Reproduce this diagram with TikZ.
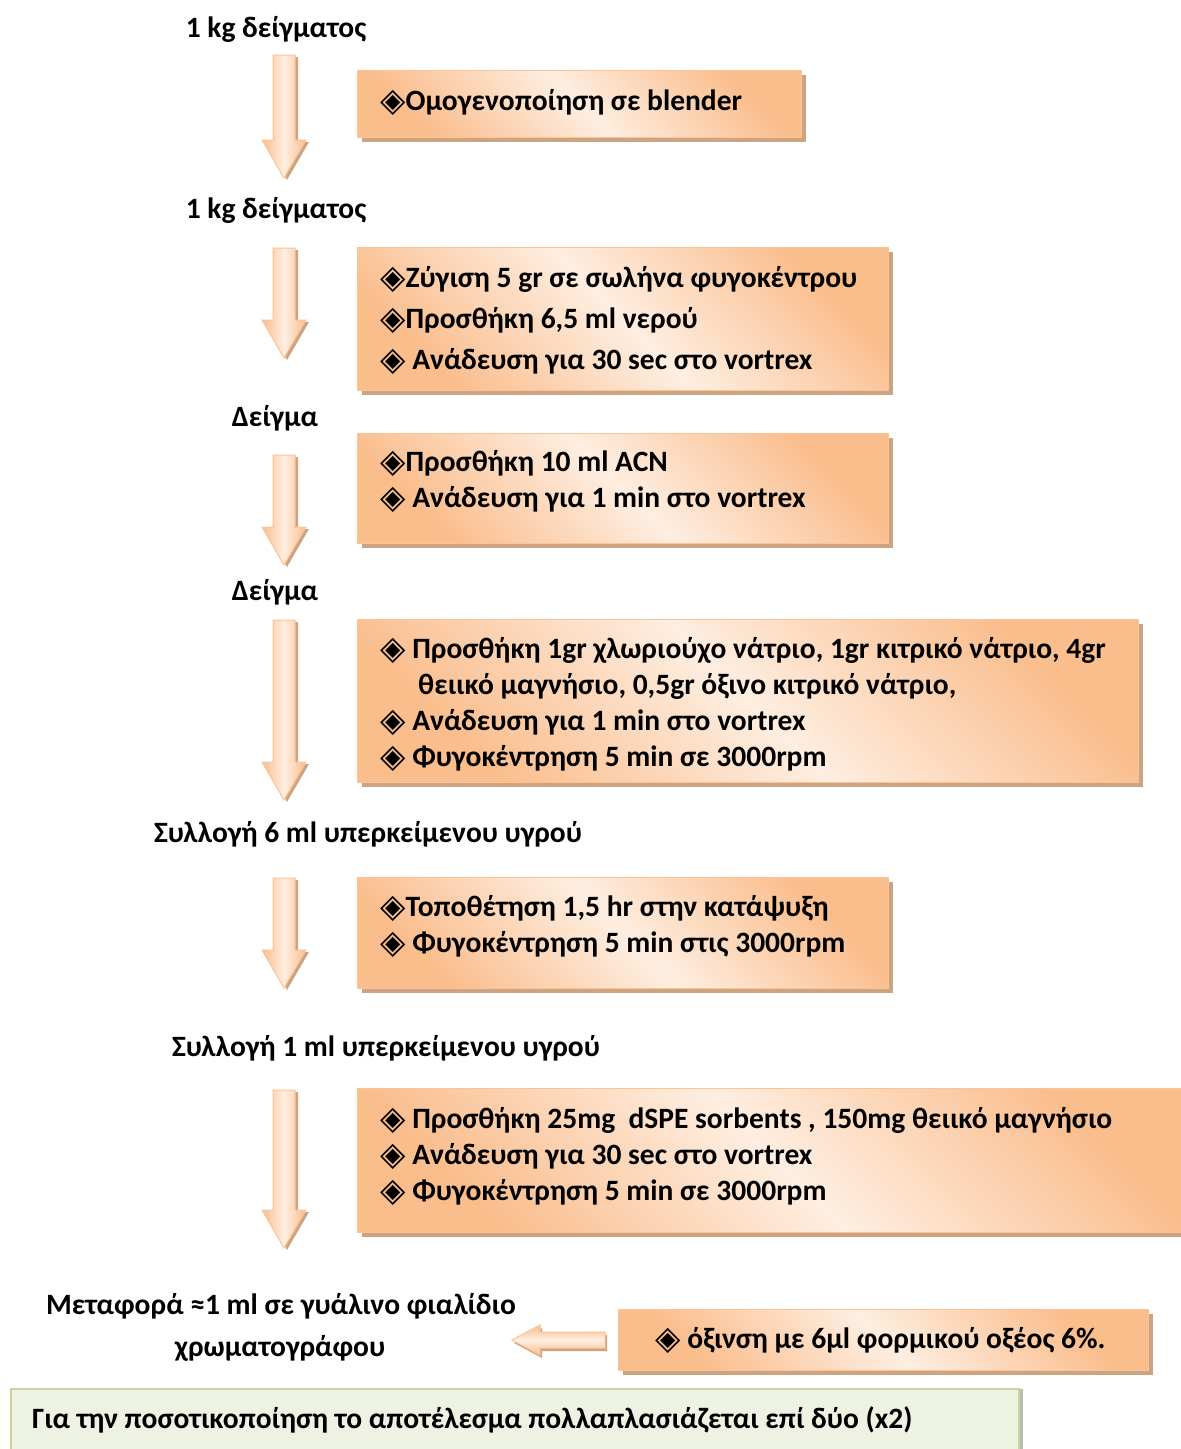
\documentclass[tikz,border=0pt]{standalone}
\usepackage{fontspec}
\setmainfont{Carlito}
\newfontfamily\symfont{DejaVu Sans}
\usetikzlibrary{calc,shadows}

\definecolor{orD}{RGB}{250,189,140}
\definecolor{orL}{RGB}{254,238,225}
\definecolor{orEdge}{RGB}{250,196,152}
\definecolor{shadowTan}{RGB}{205,164,130}
\definecolor{grFill}{RGB}{237,242,226}
\definecolor{grEdge}{RGB}{196,214,160}
\definecolor{grShadow}{RGB}{185,190,175}

\newcommand\bul{{\symfont\fontsize{33}{33}\selectfont\raisebox{-1.5pt}{◈}}}

\tikzset{
  x=1pt, y=-1pt,
  txt/.style={font=\bfseries\fontsize{29.5}{36}\selectfont, inner sep=0pt, text=black},
  line/.style={txt, anchor=base west},
  label/.style={txt, anchor=base},
  stepbox/.style={draw=orEdge, line width=1.2pt, anchor=north west, inner sep=0pt,
    top color=orD, bottom color=orD, middle color=orL, shading angle=-45,
    general shadow={fill=shadowTan, shadow xshift=4pt, shadow yshift=-4pt}},
  notebox/.style={draw=grEdge, line width=1.5pt, fill=grFill, anchor=north west, inner sep=0pt,
    general shadow={fill=grShadow, shadow xshift=4pt, shadow yshift=0pt}},
  vblock/.style={draw=orEdge, line width=1pt,
    left color=orD, right color=orD, middle color=orL,
    general shadow={fill=shadowTan, shadow xshift=3pt, shadow yshift=-2pt}},
  hblock/.style={draw=orEdge, line width=1pt,
    top color=orD, bottom color=orD, middle color=orL,
    general shadow={fill=shadowTan, shadow xshift=2pt, shadow yshift=-3pt}},
}

% downward block arrow from a tail coordinate to a tip coordinate
\newcommand\downblock[2]{%
  \path[vblock] ($(#1)+(-11,0)$) -- ($(#1)+(11,0)$) -- ($(#2)+(11,-38)$) -- ($(#2)+(22,-38)$)
    -- (#2) -- ($(#2)+(-22,-38)$) -- ($(#2)+(-11,-38)$) -- cycle;}
% leftward block arrow from a tail coordinate to a tip coordinate
\newcommand\leftblock[2]{%
  \path[hblock] ($(#1)+(0,-8)$) -- ($(#1)+(0,8)$) -- ($(#2)+(28,8)$) -- ($(#2)+(28,15)$)
    -- (#2) -- ($(#2)+(28,-15)$) -- ($(#2)+(28,-8)$) -- cycle;}

\begin{document}
\begin{tikzpicture}
\useasboundingbox (0,0) rectangle (1181,1449);

% stage labels
\node[label] (s1) at (276,37) {1 kg δείγματος};
\node[label] (s2) at (276,218) {1 kg δείγματος};
\node[label] (s3) at (275,426) {Δείγμα};
\node[label] (s4) at (275,600) {Δείγμα};
\node[label] (s5) at (368,842) {Συλλογή 6 ml υπερκείμενου υγρού};
\node[label] (s6) at (386,1056) {Συλλογή 1 ml υπερκείμενου υγρού};
\node[label] (s7a) at (281,1314) {Μεταφορά ≈1 ml σε γυάλινο φιαλίδιο};
\node[label] (s7b) at (280,1356) {χρωματογράφου};

% arrows between stages
\coordinate (t1) at (284,55);   \coordinate (h1) at (284,178);
\coordinate (t2) at (284,248);  \coordinate (h2) at (284,358);
\coordinate (t3) at (284,455);  \coordinate (h3) at (284,565);
\coordinate (t4) at (284,620);  \coordinate (h4) at (284,800);
\coordinate (t5) at (284,878);  \coordinate (h5) at (284,988);
\coordinate (t6) at (284,1090); \coordinate (h6) at (284,1248);
\downblock{t1}{h1}
\downblock{t2}{h2}
\downblock{t3}{h3}
\downblock{t4}{h4}
\downblock{t5}{h5}
\downblock{t6}{h6}

% procedure boxes
\node[stepbox, minimum width=444, minimum height=67] (b1) at (357,70) {};
\node[stepbox, minimum width=531, minimum height=143] (b2) at (357,247) {};
\node[stepbox, minimum width=531, minimum height=110] (b3) at (357,433) {};
\node[stepbox, minimum width=781, minimum height=163] (b4) at (357,619) {};
\node[stepbox, minimum width=531, minimum height=111] (b5) at (357,877) {};
\node[stepbox, minimum width=840, minimum height=144] (b6) at (357,1088) {};
\node[stepbox, minimum width=530, minimum height=61] (b7) at (618,1309) {};

\node[line] (b1a) at (380,110) {\bul Ομογενοποίηση σε blender};

\node[line] (b2a) at (380,287) {\bul Ζύγιση 5 gr σε σωλήνα φυγοκέντρου};
\node[line] (b2b) at (380,328) {\bul Προσθήκη 6,5 ml νερού};
\node[line] (b2c) at (380,369) {\bul\ Ανάδευση για 30 sec στο vortrex};

\node[line] (b3a) at (380,471) {\bul Προσθήκη 10 ml ACN};
\node[line] (b3b) at (380,507) {\bul\ Ανάδευση για 1 min στο vortrex};

\node[line] (b4a) at (380,658) {\bul\ Προσθήκη 1gr χλωριούχο νάτριο, 1gr κιτρικό νάτριο, 4gr};
\node[line] (b4b) at (418,694) {θειικό μαγνήσιο, 0,5gr όξινο κιτρικό νάτριο,};
\node[line] (b4c) at (380,730) {\bul\ Ανάδευση για 1 min στο vortrex};
\node[line] (b4d) at (380,766) {\bul\ Φυγοκέντρηση 5 min σε 3000rpm};

\node[line] (b5a) at (380,916) {\bul Τοποθέτηση 1,5 hr στην κατάψυξη};
\node[line] (b5b) at (380,952) {\bul\ Φυγοκέντρηση 5 min στις 3000rpm};

\node[line] (b6a) at (380,1128) {\bul\ Προσθήκη 25mg\ \ dSPE sorbents , 150mg θειικό μαγνήσιο};
\node[line] (b6b) at (380,1164) {\bul\ Ανάδευση για 30 sec στο vortrex};
\node[line] (b6c) at (380,1200) {\bul\ Φυγοκέντρηση 5 min σε 3000rpm};

\node[line] (b7a) at (655,1348) {\bul\ όξινση με 6μl φορμικού οξέος 6\%.};

% side step feeding the transfer
\coordinate (lt) at (605,1340); \coordinate (lh) at (512,1340);
\leftblock{lt}{lh}

% closing note
\node[notebox, minimum width=1008, minimum height=90] (note) at (10,1388) {};
\node[line] (notetxt) at (32,1428) {Για την ποσοτικοποίηση το αποτέλεσμα πολλαπλασιάζεται επί δύο (x2)};
\end{tikzpicture}
\end{document}
